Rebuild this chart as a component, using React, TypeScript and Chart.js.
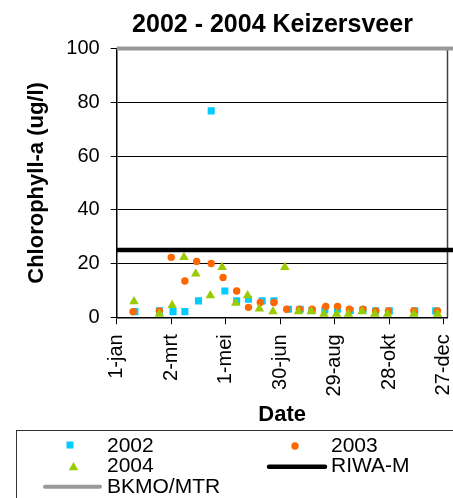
import { useEffect, useRef } from "react";
import { Chart, registerables } from "chart.js";

Chart.register(...registerables);

const FONT = "'Liberation Sans', Arial, Helvetica, sans-serif";
const TITLE = "2002 - 2004 Keizersveer";

// x axis: day number since 1 January
const tickDays = [0, 60, 120, 180, 240, 300, 360];
const tickLabels = ["1-jan", "2-mrt", "1-mei", "30-jun", "29-aug", "28-okt", "27-dec"];

const days2002 = [20, 47, 62, 75, 90, 104, 119, 132, 145, 160, 173, 189, 202, 215, 229, 243, 257, 271, 285, 300, 328, 351];
const values2002 = [2.1, 2.4, 2.1, 2.1, 6.1, 76.8, 9.8, 6.1, 6.7, 6.1, 6.1, 3.0, 3.0, 2.5, 2.7, 3.0, 2.5, 2.7, 2.4, 2.4, 2.4, 2.4];

const days2003 = [18, 47, 60, 75, 88, 104, 117, 132, 145, 158, 173, 187, 201, 215, 230, 243, 256, 271, 285, 299, 327, 353];
const values2003 = [2.1, 2.4, 22.3, 13.5, 20.8, 20.0, 14.8, 9.8, 3.7, 5.5, 5.5, 3.0, 3.0, 3.0, 4.0, 4.0, 3.0, 3.0, 2.4, 2.4, 2.4, 2.4];

const days2004 = [19, 47, 61, 74, 87, 103, 116, 131, 144, 157, 172, 185, 200, 214, 228, 242, 255, 270, 284, 298, 327, 353];
const values2004 = [5.9, 1.2, 4.5, 22.3, 16.2, 8.1, 18.6, 5.3, 8.1, 3.2, 2.2, 18.6, 2.2, 2.2, 1.2, 1.2, 1.2, 2.2, 1.2, 1.2, 1.2, 1.2];

const riwaM = 25;
const bkmoMtr = 100;

const BLUE = "#00CCFF";
const ORANGE = "#FF6600";
const GREEN = "#99CC00";
const GRAY = "#999999";

const toPts = (d: number[], v: number[]) => d.map((x, i) => ({ x, y: v[i] }));

const legendLayout = [
  { ds: 0, kind: "rect", mx: 70, my: 445, tx: 107, ty: 451.7 },
  { ds: 1, kind: "circle", mx: 295, my: 446, tx: 331, ty: 451.7 },
  { ds: 2, kind: "triangle", mx: 73.5, my: 467.5, tx: 107, ty: 472 },
  { ds: 3, kind: "line", lx1: 269, lx2: 325, my: 466.7, tx: 331, ty: 472 },
  { ds: 4, kind: "line", lx1: 45, lx2: 100, my: 486.7, tx: 107, ty: 492.7 },
];

const decor = {
  id: "decor",
  beforeDatasetsDraw(chart: any) {
    const { ctx, chartArea: ca } = chart;
    ctx.save();
    ctx.strokeStyle = "#404040";
    ctx.lineWidth = 1.5;
    ctx.beginPath();
    ctx.moveTo(ca.right, ca.top);
    ctx.lineTo(ca.right, ca.bottom);
    ctx.stroke();
    ctx.restore();
  },
  afterDraw(chart: any) {
    const { ctx } = chart;
    ctx.save();
    ctx.fillStyle = "#000";
    ctx.font = `bold 25px ${FONT}`;
    ctx.textAlign = "center";
    ctx.textBaseline = "alphabetic";
    ctx.fillText(TITLE, 272.5, 32);

    // legend box
    ctx.strokeStyle = "#333";
    ctx.lineWidth = 1;
    ctx.strokeRect(16.5, 430.5, 500, 100);

    ctx.font = `21px ${FONT}`;
    ctx.textAlign = "left";
    for (const it of legendLayout as any[]) {
      const ds = chart.data.datasets[it.ds];
      const col = ds.backgroundColor || ds.borderColor;
      ctx.fillStyle = col;
      if (it.kind === "rect") {
        ctx.fillRect(it.mx - 3.5, it.my - 3.5, 7, 7);
      } else if (it.kind === "circle") {
        ctx.beginPath();
        ctx.arc(it.mx, it.my, 3.7, 0, Math.PI * 2);
        ctx.fill();
      } else if (it.kind === "triangle") {
        const r = 5.5;
        ctx.beginPath();
        ctx.moveTo(it.mx, it.my - r);
        ctx.lineTo(it.mx + 0.866 * r, it.my + r / 2);
        ctx.lineTo(it.mx - 0.866 * r, it.my + r / 2);
        ctx.closePath();
        ctx.fill();
      } else {
        ctx.strokeStyle = ds.borderColor;
        ctx.lineWidth = ds.borderWidth;
        ctx.lineCap = "round";
        ctx.beginPath();
        ctx.moveTo(it.lx1, it.my);
        ctx.lineTo(it.lx2, it.my);
        ctx.stroke();
      }
      ctx.fillStyle = "#000";
      ctx.fillText(ds.label, it.tx, it.ty);
    }
    ctx.restore();
  },
};

export default function App() {
  const ref = useRef<HTMLCanvasElement>(null);
  useEffect(() => {
    const canvas = ref.current!;
    const chart = new Chart(canvas, {
      type: "scatter",
      data: {
        datasets: [
          { label: "2002", data: toPts(days2002, values2002), pointStyle: "rect", pointRadius: 5, backgroundColor: BLUE, borderColor: BLUE, borderWidth: 0, order: 3 } as any,
          { label: "2003", data: toPts(days2003, values2003), pointStyle: "circle", pointRadius: 3.7, backgroundColor: ORANGE, borderColor: ORANGE, borderWidth: 0, order: 2 },
          { label: "2004", data: toPts(days2004, values2004), pointStyle: "triangle", pointRadius: 5.5, backgroundColor: GREEN, borderColor: GREEN, borderWidth: 0, order: 1 },
          { label: "RIWA-M", data: [{ x: 0, y: riwaM }, { x: 372, y: riwaM }], showLine: true, pointRadius: 0, borderColor: "#000", backgroundColor: "#000", borderWidth: 4.5, clip: 10, order: 4 },
          { label: "BKMO/MTR", data: [{ x: 0, y: bkmoMtr }, { x: 372, y: bkmoMtr }], showLine: true, pointRadius: 0, borderColor: GRAY, backgroundColor: GRAY, borderWidth: 4, clip: 10, order: 5 },
        ],
      },
      options: {
        responsive: false,
        animation: false,
        devicePixelRatio: 1,
        layout: { padding: { top: 48.5, left: 0, right: 2.5, bottom: 68 } },
        plugins: {
          legend: { display: false },
          title: { display: false },
          tooltip: { enabled: false },
        },
        scales: {
          x: {
            type: "linear",
            min: 0,
            max: 364,
            afterBuildTicks: (s: any) => {
              s.ticks = tickDays.map((v) => ({ value: v }));
            },
            afterFit: (s: any) => {
              s.height = 112.7;
              s.paddingLeft = 0;
              s.paddingRight = 0;
            },
            ticks: {
              autoSkip: false,
              maxRotation: 90,
              minRotation: 90,
              padding: 10,
              color: "#000",
              font: { family: FONT, size: 20 },
              callback: (_v: any, i: number) => tickLabels[i],
            },
            grid: { drawOnChartArea: false, drawTicks: true, tickLength: 7, color: "#000", lineWidth: 1 },
            border: { display: true, color: "#000", width: 1.5 },
            title: {
              display: true,
              text: "Date",
              color: "#000",
              font: { family: FONT, size: 22, weight: "bold" },
              padding: { top: 0, bottom: 2 },
            },
          },
          y: {
            min: 0,
            max: 100,
            afterFit: (s: any) => {
              s.width = 116.7;
              s.paddingTop = 0;
              s.paddingBottom = 0;
            },
            ticks: {
              stepSize: 20,
              padding: 11,
              color: "#000",
              font: { family: FONT, size: 20 },
            },
            grid: { color: "#000", lineWidth: 1, drawTicks: true, tickLength: 6 },
            border: { display: true, color: "#000", width: 1.5 },
            title: {
              display: true,
              text: "Chlorophyll-a (ug/l)",
              color: "#000",
              font: { family: FONT, size: 22, weight: "bold" },
              padding: { top: 24, bottom: 0 },
            },
          },
        },
      } as any,
      plugins: [decor],
    });
    return () => chart.destroy();
  }, []);
  return (
    <div style={{ position: "absolute", left: 0, top: 0, width: 453, height: 498, background: "#fff" }}>
      <canvas ref={ref} width={453} height={498} style={{ display: "block" }} />
    </div>
  );
}
